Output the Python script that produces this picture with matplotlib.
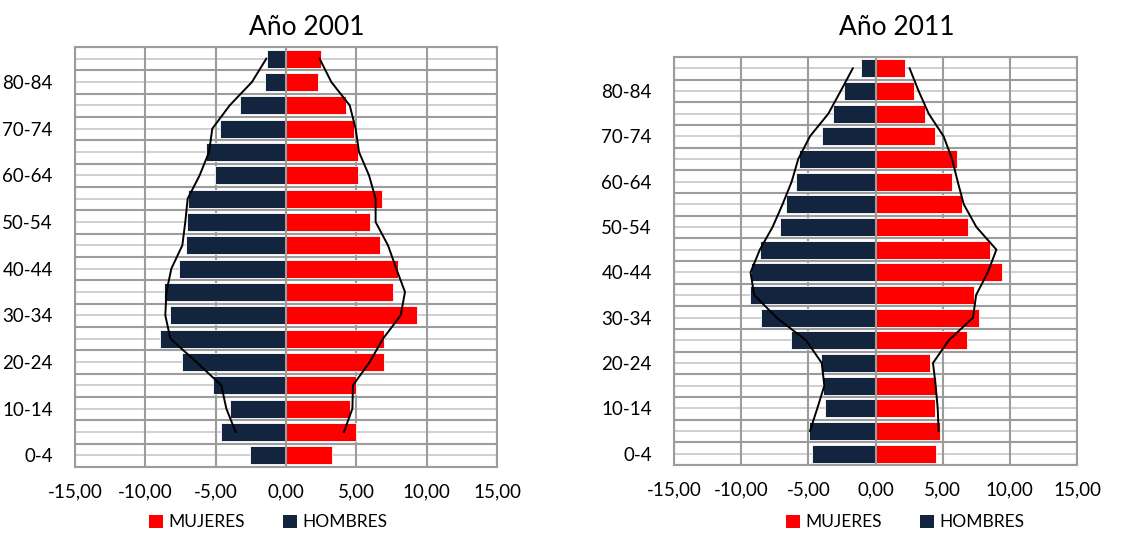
import numpy as np
import matplotlib
matplotlib.use("Agg")
import matplotlib.pyplot as plt
from matplotlib.ticker import FuncFormatter
from matplotlib.patches import Patch

plt.rcParams['font.family'] = ['Lato', 'DejaVu Sans']

# age groups, bottom to top
edades = ["0-4", "5-9", "10-14", "15-19", "20-24", "25-29", "30-34", "35-39",
          "40-44", "45-49", "50-54", "55-59", "60-64", "65-69", "70-74",
          "75-79", "80-84", "85+"]

# Año 2001 (%)
hombres_2001 = [-2.54, -4.64, -3.96, -5.19, -7.42, -8.98, -8.22, -8.70, -7.58,
                -7.13, -7.04, -6.94, -5.07, -5.69, -4.69, -3.27, -1.47, -1.37]
mujeres_2001 = [3.25, 4.98, 4.53, 4.98, 6.97, 6.97, 9.34, 7.61, 7.99,
                6.68, 5.97, 6.80, 5.14, 5.14, 4.81, 4.29, 2.30, 2.46]
# reference profile (black line)
perfil_h_2001 = [np.nan, -3.58, -4.24, -4.60, -6.37, -8.22, -8.58, -8.50, -8.15,
                 -7.37, -7.16, -6.99, -6.14, -5.47, -5.24, -4.00, -2.42, -1.40]
perfil_m_2001 = [np.nan, 4.12, 4.72, 4.76, 5.95, 6.90, 8.15, 8.46, 7.84,
                 7.25, 6.37, 6.37, 5.90, 5.19, 4.95, 4.53, 3.22, 2.39]

# Año 2011 (%)
hombres_2011 = [-4.73, -4.93, -3.76, -3.88, -4.05, -6.29, -8.56, -9.35, -9.30,
                -8.61, -7.11, -6.64, -5.92, -5.67, -4.00, -3.18, -2.36, -1.07]
mujeres_2011 = [4.50, 4.80, 4.43, 4.53, 4.03, 6.82, 7.69, 7.31, 9.40,
                8.53, 6.92, 6.44, 5.72, 6.04, 4.43, 3.71, 2.89, 2.21]
perfil_h_2011 = [np.nan, -4.88, -4.33, -3.81, -4.00, -5.17, -7.36, -9.03, -9.30,
                 -8.61, -7.66, -6.92, -6.24, -5.75, -4.88, -3.51, -2.59, -1.69]
perfil_m_2011 = [np.nan, 4.70, 4.63, 4.48, 4.28, 5.45, 7.26, 7.49, 8.36,
                 9.00, 7.51, 6.57, 6.12, 5.70, 5.07, 3.96, 3.21, 2.54]

COLOR_H = "#13243f"
COLOR_M = "#ff0000"
GRID = "#9c9c9c"

fig = plt.figure(figsize=(11.45, 5.34), dpi=100)


def piramide(rect, titulo, title_x, hombres, mujeres, perfil_h, perfil_m, leg_x):
    ax = fig.add_axes(rect)
    y = np.arange(len(edades))

    # horizontal grid: category boundaries and centres
    for b in np.arange(-0.5, len(edades), 1.0):
        ax.axhline(b, color=GRID, lw=1.5, zorder=0)
    for c in y:
        ax.axhline(c, color="#c4c4c4", lw=1.1, zorder=0)
    for v in range(-15, 16, 5):
        ax.axvline(v, color=GRID, lw=1.5, zorder=0)

    ax.barh(y, mujeres, height=0.78, color=COLOR_M, edgecolor="white", lw=0.6, zorder=2)
    ax.barh(y, hombres, height=0.78, color=COLOR_H, edgecolor="white", lw=0.6, zorder=2)
    ax.axvline(0, color=GRID, lw=1.5, zorder=3)

    ax.plot(perfil_h, y, color="black", lw=1.4, zorder=4)
    ax.plot(perfil_m, y, color="black", lw=1.4, zorder=4)

    ax.set_xlim(-15, 15)
    ax.set_ylim(-0.5, len(edades) - 0.5)
    ax.set_xticks(range(-15, 16, 5))
    ax.xaxis.set_major_formatter(FuncFormatter(lambda v, p: f"{v:.2f}".replace(".", ",")))
    ax.set_yticks(y[::2])
    ax.set_yticklabels(edades[::2])
    ax.tick_params(axis="both", length=0, labelsize=13.5, colors="black")
    ax.tick_params(axis="x", pad=12)
    ax.tick_params(axis="y", pad=16)
    for s in ax.spines.values():
        s.set_color(GRID)
        s.set_linewidth(1.5)

    fig.text(title_x, 0.948, titulo, ha="center", va="center", fontsize=19)

    handles = [Patch(facecolor=COLOR_M, label="MUJERES"),
               Patch(facecolor=COLOR_H, label="HOMBRES")]
    fig.legend(handles=handles, loc="center", bbox_to_anchor=(leg_x, 0.022),
               ncol=2, frameon=False, fontsize=12.5, handlelength=0.8,
               handleheight=0.8, handletextpad=0.3, columnspacing=2.2)
    return ax


piramide([75 / 1145, 67 / 534, 422 / 1145, 420 / 534], "Año 2001", 307 / 1145,
         hombres_2001, mujeres_2001, perfil_h_2001, perfil_m_2001, 268 / 1145)
piramide([674 / 1145, 69 / 534, 403 / 1145, 408 / 534], "Año 2011", 897 / 1145,
         hombres_2011, mujeres_2011, perfil_h_2011, perfil_m_2011, 905 / 1145)

fig.savefig("out.png", dpi=100)
